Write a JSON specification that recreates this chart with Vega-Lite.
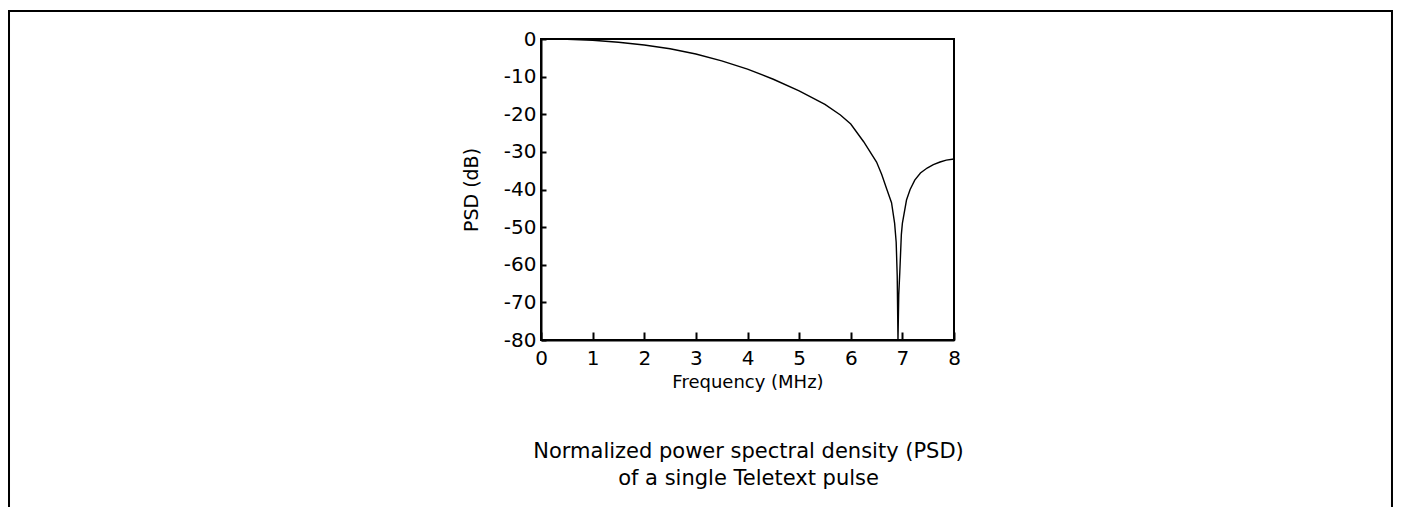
{
  "$schema": "https://vega.github.io/schema/vega-lite/v6.json",
  "autosize": {"type": "none"},
  "width": 413,
  "height": 301,
  "padding": {"left": 541, "top": 39, "right": 450, "bottom": 167},
  "background": "white",
  "config": {
    "font": "DejaVu Sans",
    "view": {"stroke": "black", "strokeWidth": 2},
    "axis": {
      "domainColor": "black", "domainWidth": 2, "tickColor": "black", "tickWidth": 2,
      "labelColor": "black", "titleColor": "black", "labelFont": "DejaVu Sans",
      "titleFont": "DejaVu Sans", "labelFontSize": 20, "titleFontSize": 19,
      "titleFontWeight": "normal", "grid": false, "labelOverlap": false,
      "labelExpr": "'' + datum.value"
    }
  },
  "data": {"values": [
    {"f": 0, "psd": 0}, {"f": 0.5, "psd": -0.1}, {"f": 1.0, "psd": -0.35}, {"f": 1.5, "psd": -0.85},
    {"f": 2.0, "psd": -1.6}, {"f": 2.5, "psd": -2.6}, {"f": 3.0, "psd": -4.0}, {"f": 3.5, "psd": -5.8},
    {"f": 4.0, "psd": -8.0}, {"f": 4.5, "psd": -10.7}, {"f": 5.0, "psd": -13.8}, {"f": 5.5, "psd": -17.4},
    {"f": 5.8, "psd": -20.2}, {"f": 6.0, "psd": -22.6}, {"f": 6.25, "psd": -27.3}, {"f": 6.5, "psd": -32.7}, {"f": 6.6, "psd": -36.0},
    {"f": 6.7, "psd": -40.0}, {"f": 6.79, "psd": -43.5}, {"f": 6.85, "psd": -49.0}, {"f": 6.88, "psd": -54.0},
    {"f": 6.9, "psd": -63.0}, {"f": 6.915, "psd": -80.0}, {"f": 6.93, "psd": -68.0}, {"f": 6.95, "psd": -62.0},
    {"f": 6.98, "psd": -52.0}, {"f": 7.0, "psd": -49.0}, {"f": 7.08, "psd": -42.8}, {"f": 7.15, "psd": -40.0},
    {"f": 7.24, "psd": -37.5}, {"f": 7.35, "psd": -35.6}, {"f": 7.48, "psd": -34.3}, {"f": 7.6, "psd": -33.4},
    {"f": 7.73, "psd": -32.7}, {"f": 7.85, "psd": -32.2}, {"f": 8.0, "psd": -31.9}
  ]},
  "layer": [
    {
      "mark": {"type": "line", "color": "black", "strokeWidth": 1.4},
      "encoding": {
        "x": {"field": "f", "type": "quantitative",
              "scale": {"domain": [0, 8], "nice": false, "zero": false},
              "axis": {"title": "Frequency (MHz)", "titleFontSize": 18, "values": [0,1,2,3,4,5,6,7,8], "tickSize": -8, "labelPadding": 16, "titlePadding": 5, "labelFlush": false, "labelOverlap": false}},
        "y": {"field": "psd", "type": "quantitative",
              "scale": {"domain": [-80, 0], "nice": false, "zero": false},
              "axis": {"title": "PSD (dB)", "values": [0,-10,-20,-30,-40,-50,-60,-70,-80], "tickCount": 9, "tickSize": -5, "labelPadding": 10, "titlePadding": 22, "labelOverlap": false, "labelFlush": false}}
      }
    },
    {
      "data": {"values": [{}]},
      "mark": {"type": "rect", "fill": null, "stroke": "black", "strokeWidth": 2, "clip": false},
      "encoding": {
        "x": {"datum": -10.305, "type": "quantitative"},
        "x2": {"datum": 16.484},
        "y": {"datum": 7.44, "type": "quantitative"},
        "y2": {"datum": -140}
      }
    },
    {
      "data": {"values": [{}]},
      "mark": {"type": "text", "font": "DejaVu Sans", "fontSize": 21, "color": "black",
               "align": "center", "baseline": "alphabetic", "lineHeight": 27,
               "clip": false,
               "text": ["Normalized power spectral density (PSD)", "of a single Teletext pulse"]},
      "encoding": {
        "x": {"datum": 4.02, "type": "quantitative"},
        "y": {"datum": -111.3, "type": "quantitative"}
      }
    }
  ]
}
